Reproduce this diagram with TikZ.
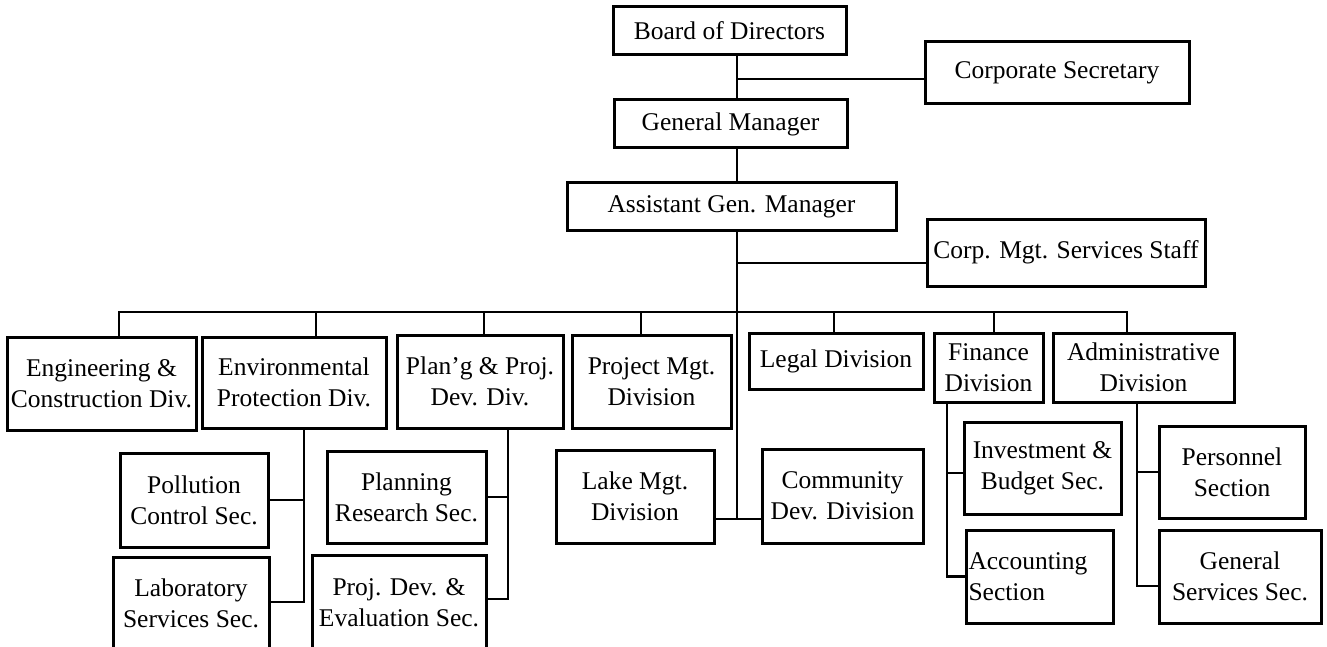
\documentclass[tikz,border=0pt]{standalone}
\usepackage{fontspec}
\setmainfont{Liberation Serif}
\begin{document}
\begin{tikzpicture}[x=1pt,y=-1pt,
  font=\fontsize{25.5}{31}\selectfont,
  unit/.style={draw=black, line width=3pt, fill=white, inner sep=0pt, align=center},
  link/.style={draw=black, line width=2.6pt}]
% page
\fill[white] (0,0) rectangle (1327,647);
\useasboundingbox (0,0) rectangle (1327,647);

% executive level
\node[unit, minimum width=233, minimum height=48] (board)   at (729.5,31)   {Board of Directors};
\node[unit, minimum width=264, minimum height=62] (corpsec) at (1057,73)    {Corporate Secretary};
\node[unit, minimum width=233, minimum height=48] (gm)      at (730.5,124)  {General Manager};
\node[unit, minimum width=329, minimum height=47] (agm)     at (731.5,206.5){Assistant Gen. Manager};
\node[unit, minimum width=278, minimum height=67] (cmss)    at (1066,252.5) {Corp. Mgt. Services Staff};

% divisions
\node[unit, minimum width=189, minimum height=93] (eng)   at (101.5,383.5) {Engineering \&\\Construction Div.};
\node[unit, minimum width=184, minimum height=91] (env)   at (294,382.5)   {Environmental\\Protection Div.};
\node[unit, minimum width=166, minimum height=93] (plang) at (480,381.5)   {Plan'g \& Proj.\\Dev. Div.};
\node[unit, minimum width=159, minimum height=93] (pmd)   at (651.5,381.5) {Project Mgt.\\Division};
\node[unit, minimum width=174, minimum height=56] (legal) at (836,361)     {Legal Division};
\node[unit, minimum width=109, minimum height=69] (fin)   at (988.5,367.5) {Finance\\Division};
\node[unit, minimum width=181, minimum height=69] (adm)   at (1143.5,367.5){Administrative\\Division};

% sections
\node[unit, minimum width=148, minimum height=94] (poll)  at (194,500)     {Pollution\\Control Sec.};
\node[unit, minimum width=156, minimum height=93] (lab)   at (191,603.5)   {Laboratory\\Services Sec.};
\node[unit, minimum width=159, minimum height=92] (plres) at (406.5,497)   {Planning\\Research Sec.};
\node[unit, minimum width=174, minimum height=95] (pdev)  at (399,602.5)   {Proj. Dev. \&\\Evaluation Sec.};
\node[unit, minimum width=158, minimum height=93] (lake)  at (635,496.5)   {Lake Mgt.\\Division};
\node[unit, minimum width=161, minimum height=94] (comm)  at (842.5,496)   {Community\\Dev. Division};
\node[unit, minimum width=157, minimum height=92] (inv)   at (1042.5,468)  {Investment \&\\Budget Sec.};
\node[unit, align=left, text width=142, inner xsep=2.5pt, minimum height=93] (acc) at (1039.5,576.5) {Accounting\\Section};
\node[unit, minimum width=146, minimum height=92] (pers)  at (1232,472)    {Personnel\\Section};
\node[unit, minimum width=162, minimum height=93] (gen)   at (1240,576.5)  {General\\Services Sec.};

% trunk and staff branches
\coordinate (tk)   at (737,0);
\coordinate (csj)  at (737,79);
\coordinate (msj)  at (737,263);
\coordinate (lkj)  at (737,519);
\draw[link] (board.south -| tk) -- (gm.north -| tk);
\draw[link] (gm.south -| tk) -- (agm.north -| tk);
\draw[link] (agm.south -| tk) -- (lkj);
\draw[link] (csj) -- (csj -| corpsec.west);
\draw[link] (msj) -- (msj -| cmss.west);
\draw[link] (lake.east |- lkj) -- (comm.west |- lkj);

% division bus
\coordinate (d1) at (119,312);
\coordinate (d2) at (316,312);
\coordinate (d3) at (484,312);
\coordinate (d4) at (641,312);
\coordinate (d5) at (834,312);
\coordinate (d6) at (994,312);
\coordinate (d7) at (1127,312);
\draw[link] (eng.north -| d1) -- (d1) -- (d7) -- (adm.north -| d7);
\draw[link] (d2) -- (env.north -| d2);
\draw[link] (d3) -- (plang.north -| d3);
\draw[link] (d4) -- (pmd.north -| d4);
\draw[link] (d5) -- (legal.north -| d5);
\draw[link] (d6) -- (fin.north -| d6);

% section feeders
\coordinate (ev) at (304,0);
\coordinate (pv) at (508,0);
\coordinate (fv) at (947,0);
\coordinate (av) at (1137,0);
\draw[link] (env.south -| ev) |- ([yshift=1.5pt]lab.east);
\draw[link] (poll.east) -- (poll.east -| ev);
\draw[link] (plang.south -| pv) |- ([yshift=3.5pt]pdev.east);
\draw[link] (plres.east) -- (plres.east -| pv);
\draw[link] (fin.south -| fv) |- (acc.west);
\draw[link] ([yshift=-5pt]inv.west) -- ([yshift=-5pt]inv.west -| fv);
\draw[link] (adm.south -| av) |- ([yshift=-9.5pt]gen.west);
\draw[link] (pers.west) -- (pers.west -| av);
\end{tikzpicture}
\end{document}
